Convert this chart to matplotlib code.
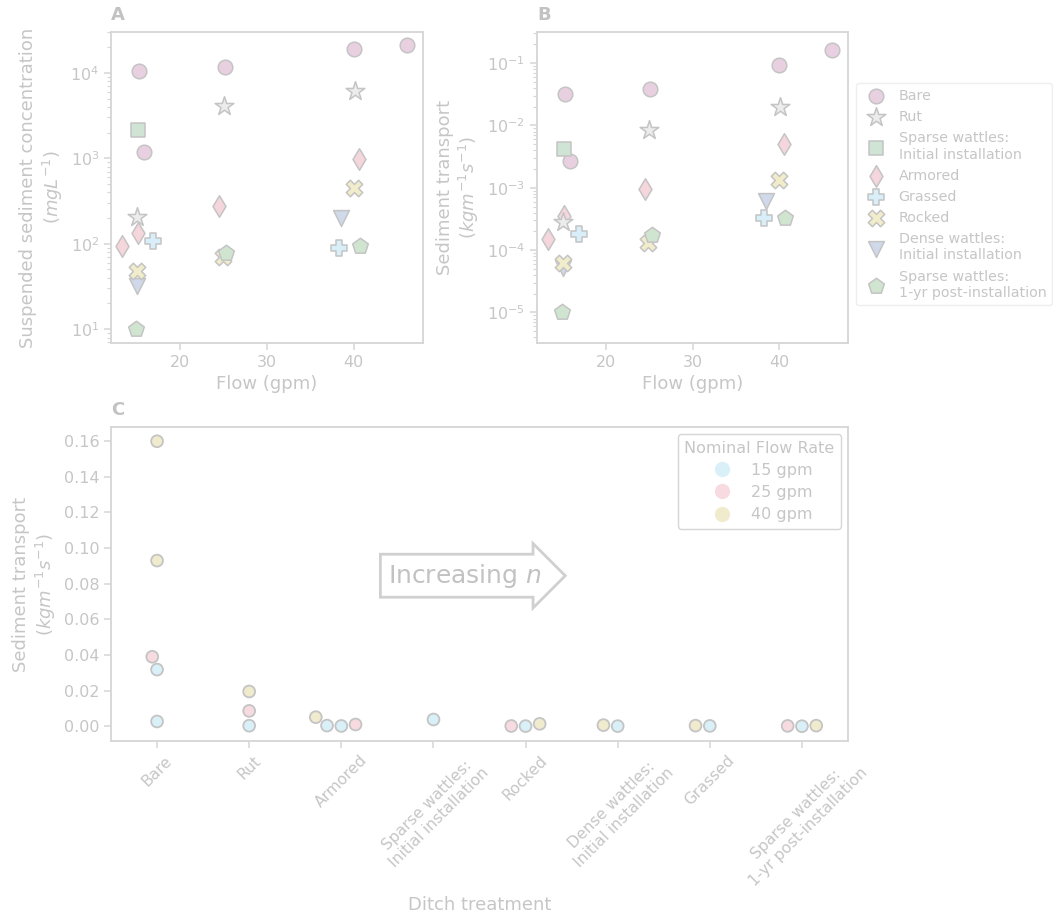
import numpy as np
import pandas as pd
import matplotlib
matplotlib.use("Agg")
import matplotlib.pyplot as plt
from matplotlib.lines import Line2D
import seaborn as sns

# -------- DATA --------
# flow (gpm), suspended sediment concentration (mg/L), sediment transport (kg/m/s)
bare_flow = [15.2, 15.8, 25.1, 40.0, 46.1]
bare_ssc = [10400, 1170, 11700, 19000, 21200]
bare_qs = [0.0318, 0.00267, 0.039, 0.093, 0.160]

rut_flow = [15.0, 25.0, 40.1]
rut_ssc = [207, 4040, 6120]
rut_qs = [0.000287, 0.0086, 0.0195]

sparse_init_flow = [15.1]
sparse_init_ssc = [2150]
sparse_init_qs = [0.0042]

armored_flow = [13.3, 15.1, 24.5, 40.6]
armored_ssc = [95, 132, 274, 975]
armored_qs = [0.000151, 0.00035, 0.00096, 0.00507]

grassed_flow = [16.9, 38.3]
grassed_ssc = [107, 90]
grassed_qs = [0.000182, 0.000333]

rocked_flow = [15.0, 24.9, 40.0]
rocked_ssc = [48, 70.5, 450]
rocked_qs = [6.2e-5, 0.000129, 0.00134]

dense_flow = [15.0, 38.5]
dense_ssc = [32, 199]
dense_qs = [5.1e-5, 0.000616]

sparse_1yr_flow = [14.9, 25.3, 40.7]
sparse_1yr_ssc = [10, 78.5, 93]
sparse_1yr_qs = [1.0e-5, 0.000174, 0.000325]

legend_order = ["Bare", "Rut", "Sparse wattles:\nInitial installation", "Armored",
                "Grassed", "Rocked", "Dense wattles:\nInitial installation",
                "Sparse wattles:\n1-yr post-installation"]
c_order = ["Bare", "Rut", "Armored", "Sparse wattles:\nInitial installation", "Rocked",
           "Dense wattles:\nInitial installation", "Grassed",
           "Sparse wattles:\n1-yr post-installation"]
flow_levels = ["15 gpm", "25 gpm", "40 gpm"]

# -------- STYLE (everything is washed out in the reference) --------
TXT = "#c6c6c6"
SPINE = "#d6d6d6"
EDGE = "#c4c4c4"

styles = {
    "Bare": dict(marker="o", color="#e9d0e1", s=110),
    "Rut": dict(marker="*", color="#ececec", s=200),
    "Sparse wattles:\nInitial installation": dict(marker="s", color="#d0e4d5", s=95),
    "Armored": dict(marker="d", color="#f6d6dd", s=120),
    "Grassed": dict(marker="P", color="#d8eff9", s=140),
    "Rocked": dict(marker="X", color="#f1ecc9", s=140),
    "Dense wattles:\nInitial installation": dict(marker="v", color="#d0d9e9", s=130),
    "Sparse wattles:\n1-yr post-installation": dict(marker="p", color="#d0e5d0", s=140),
}
flow_colors = ["#d9f0f9", "#f8dbe1", "#f1ebcd"]

# drawing order (a few markers overlap, this is the order that matches)
series = [
    ("Bare", bare_flow, bare_ssc, bare_qs),
    ("Sparse wattles:\nInitial installation", sparse_init_flow, sparse_init_ssc, sparse_init_qs),
    ("Armored", armored_flow, armored_ssc, armored_qs),
    ("Rut", rut_flow, rut_ssc, rut_qs),
    ("Grassed", grassed_flow, grassed_ssc, grassed_qs),
    ("Dense wattles:\nInitial installation", dense_flow, dense_ssc, dense_qs),
    ("Rocked", rocked_flow, rocked_ssc, rocked_qs),
    ("Sparse wattles:\n1-yr post-installation", sparse_1yr_flow, sparse_1yr_ssc, sparse_1yr_qs),
]

plt.rcParams.update({
    "text.color": TXT, "axes.labelcolor": TXT,
    "xtick.color": SPINE, "ytick.color": SPINE,
    "xtick.labelcolor": TXT, "ytick.labelcolor": TXT,
    "axes.edgecolor": SPINE, "axes.linewidth": 1.3,
    "xtick.labelsize": 11.5, "ytick.labelsize": 11.5,
    "axes.labelsize": 13,
})

fig = plt.figure(figsize=(10.53, 9.13), dpi=100)
W, H = 1053, 913


def rect(l, t, r, b):
    return [l / W, 1 - b / H, (r - l) / W, (b - t) / H]


axA = fig.add_axes(rect(111, 32, 423, 343))
axB = fig.add_axes(rect(537, 32, 848, 343))
axC = fig.add_axes(rect(111, 427, 848, 741))

handles = {}
for name, fl, ssc, qs in series:
    st = styles[name]
    for ax, vals in ((axA, ssc), (axB, qs)):
        h = ax.scatter(fl, vals, marker=st["marker"], s=st["s"], c=st["color"],
                       edgecolors=EDGE, linewidths=1.1, zorder=3)
    handles[name] = h

for ax in (axA, axB):
    ax.set_yscale("log")
    ax.set_xlim(12, 48)
    ax.set_xticks([20, 30, 40])
    ax.set_xlabel("Flow (gpm)")
    ax.tick_params(which="major", length=5, width=1.1)
    ax.tick_params(which="minor", length=3, width=0.8)

axA.set_ylim(6.9, 3.0e4)
axB.set_ylim(10 ** -5.49, 10 ** -0.5)
axA.set_ylabel("Suspended sediment concentration\n($mgL^{-1}$)")
axB.set_ylabel("Sediment transport\n($kgm^{-1}s^{-1}$)")

legB = axB.legend([handles[n] for n in legend_order], legend_order,
                  loc="upper left", bbox_to_anchor=(1.025, 0.835), borderaxespad=0,
                  fontsize=10.3, labelspacing=0.5, handletextpad=0.6,
                  frameon=True, edgecolor="#eeeeee", framealpha=1)

# -------- PANEL C --------
def nominal(f):
    if f < 20:
        return "15 gpm"
    if f < 32:
        return "25 gpm"
    return "40 gpm"


rows = []
for name, fl, ssc, qs in series:
    for f, q in zip(fl, qs):
        rows.append((name, nominal(f), q))
df = pd.DataFrame(rows, columns=["treatment", "flow", "qs"])

sns.swarmplot(data=df, x="treatment", y="qs", hue="flow", order=c_order,
              hue_order=flow_levels, palette=flow_colors, size=8.5,
              edgecolor=EDGE, linewidth=1.3, ax=axC, zorder=3)

axC.set_ylim(-0.0083, 0.168)
axC.set_yticks(np.arange(0, 0.161, 0.02))
axC.yaxis.set_major_formatter(matplotlib.ticker.FormatStrFormatter("%.2f"))
axC.set_ylabel("Sediment transport\n($kgm^{-1}s^{-1}$)")
axC.set_xlabel("Ditch treatment")
axC.xaxis.set_label_coords(0.5, -0.495)
axC.tick_params(length=5, width=1.1)
for lab in axC.get_xticklabels():
    lab.set_rotation(45)
    lab.set_ha("center")
    lab.set_multialignment("center")
    lab.set_fontsize(11.2)

leg_handles = [Line2D([], [], marker="o", ls="", markersize=11, markerfacecolor=c,
                      markeredgecolor="none") for c in flow_colors]
legC = axC.legend(leg_handles, flow_levels, title="Nominal Flow Rate", loc="upper right",
                  fontsize=11.5, title_fontsize=11.5, edgecolor=SPINE, framealpha=1,
                  labelspacing=0.45, borderaxespad=0.45)

axC.text(3.34, 0.0845, "Increasing $n$", fontsize=18, color="#c2c2c2", ha="center", va="center",
         bbox=dict(boxstyle="rarrow,pad=0.3", fc="white", ec="#d0d0d0", lw=2))

for ax, letter in ((axA, "A"), (axB, "B"), (axC, "C")):
    ax.text(0, 1.025, letter, transform=ax.transAxes, fontsize=13, fontweight="bold",
            color="#c2c2c2", ha="left", va="bottom")

fig.savefig("out.png", dpi=100)
plt.close(fig)
